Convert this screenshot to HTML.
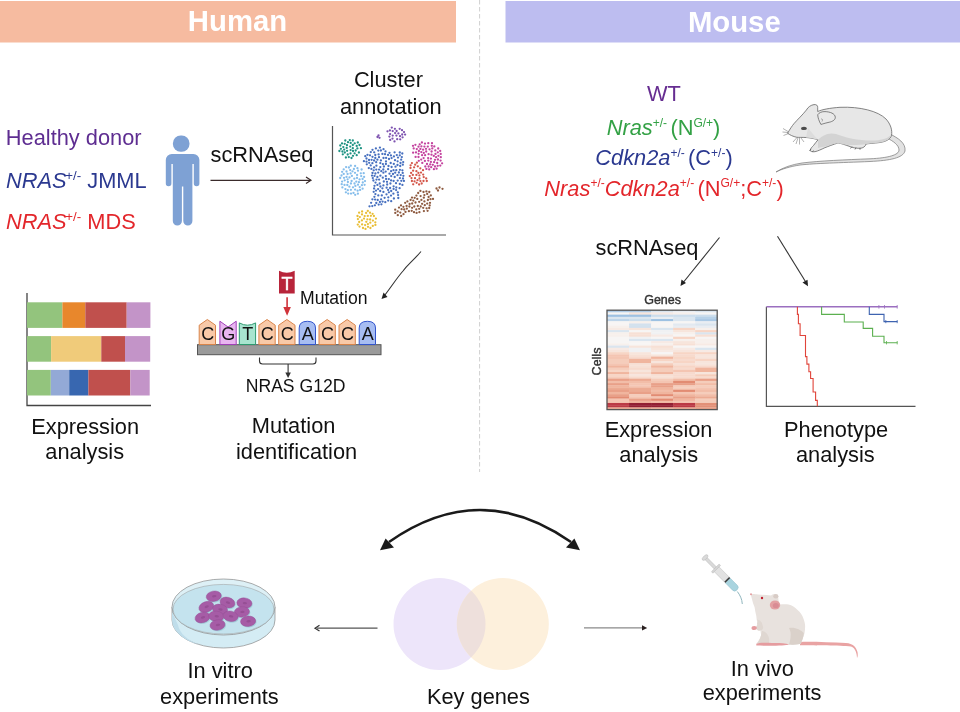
<!DOCTYPE html>
<html><head><meta charset="utf-8"><style>
html,body{margin:0;padding:0;background:#fff;}
svg{display:block;font-family:"Liberation Sans", sans-serif;will-change:transform;}
</style></head><body>
<svg width="960" height="712" viewBox="0 0 960 712">
<rect x="0" y="1" width="456" height="41.5" fill="#F6BBA0"/>
<rect x="505.5" y="1" width="454.5" height="41.5" fill="#BDBDF0"/>
<text x="237.5" y="31.3" text-anchor="middle" font-weight="bold" font-size="29.3" fill="#fff">Human</text>
<text x="734.3" y="32" text-anchor="middle" font-weight="bold" font-size="29.3" fill="#fff">Mouse</text>
<line x1="479.6" y1="0" x2="479.6" y2="472" stroke="#d0d0d0" stroke-width="1" stroke-dasharray="4.5,2.5"/>
<text x="5.8" y="144.6" font-size="21.8" fill="#5E2D91">Healthy donor</text>
<text x="6" y="188" font-size="21.8" fill="#2B3990"><tspan font-style="italic">NRAS</tspan><tspan font-size="13.3" dy="-8" dx="-1.2">+/-</tspan><tspan dy="8"> JMML</tspan></text>
<text x="6" y="228.7" font-size="21.8" fill="#E3262B"><tspan font-style="italic">NRAS</tspan><tspan font-size="13.3" dy="-8" dx="-1.2">+/-</tspan><tspan dy="8"> MDS</tspan></text>
<rect x="172.9" y="135.5" width="16.6" height="16.3" rx="7.8" ry="7.8" fill="#7EA1D4"/>
<path d="M170.9,153.9 H193.4 a6,6 0 0 1 6,6 V183.5 a2.8,2.8 0 0 1 -5.6,0 V164 h-1.4 V221 a4.55,4.55 0 0 1 -9.1,0 V186.5 h-1.4 V221 a4.55,4.55 0 0 1 -9.1,0 V164 h-1.4 V183.5 a2.8,2.8 0 0 1 -5.6,0 V159.9 a6,6 0 0 1 6,-6 Z" fill="#7EA1D4"/>
<text x="210.5" y="162.3" font-size="21.8" fill="#111">scRNAseq</text>
<line x1="210.5" y1="180.3" x2="310.5" y2="180.3" stroke="#3a2b2b" stroke-width="1.2"/>
<path d="M306,177 L311,180.3 L306,183.6" fill="none" stroke="#3a2b2b" stroke-width="1.2"/>
<text x="388.4" y="87.4" text-anchor="middle" font-size="21.8" fill="#111">Cluster</text>
<text x="390.8" y="114" text-anchor="middle" font-size="21.8" fill="#111">annotation</text>
<path d="M332.5,126 V235 H446" fill="none" stroke="#555" stroke-width="1.2"/>
<circle cx="344.2" cy="149.6" r="1.15" fill="#1F9383"/>
<circle cx="347.1" cy="150.8" r="1.15" fill="#1F9383"/>
<circle cx="352.8" cy="140.5" r="1.15" fill="#1F9383"/>
<circle cx="344.7" cy="143.8" r="1.15" fill="#1F9383"/>
<circle cx="360.9" cy="148.2" r="1.15" fill="#1F9383"/>
<circle cx="357.4" cy="148.4" r="1.15" fill="#1F9383"/>
<circle cx="353.0" cy="155.8" r="1.15" fill="#1F9383"/>
<circle cx="350.5" cy="153.4" r="1.15" fill="#1F9383"/>
<circle cx="355.7" cy="150.5" r="1.15" fill="#1F9383"/>
<circle cx="347.7" cy="154.5" r="1.15" fill="#1F9383"/>
<circle cx="348.8" cy="157.1" r="1.15" fill="#1F9383"/>
<circle cx="342.0" cy="143.4" r="1.15" fill="#1F9383"/>
<circle cx="352.8" cy="145.0" r="1.15" fill="#1F9383"/>
<circle cx="350.2" cy="146.6" r="1.15" fill="#1F9383"/>
<circle cx="354.7" cy="143.3" r="1.15" fill="#1F9383"/>
<circle cx="345.3" cy="140.5" r="1.15" fill="#1F9383"/>
<circle cx="348.0" cy="142.2" r="1.15" fill="#1F9383"/>
<circle cx="343.3" cy="147.1" r="1.15" fill="#1F9383"/>
<circle cx="345.9" cy="157.5" r="1.15" fill="#1F9383"/>
<circle cx="339.4" cy="151.0" r="1.15" fill="#1F9383"/>
<circle cx="352.8" cy="148.2" r="1.15" fill="#1F9383"/>
<circle cx="354.6" cy="153.3" r="1.15" fill="#1F9383"/>
<circle cx="347.0" cy="145.2" r="1.15" fill="#1F9383"/>
<circle cx="357.8" cy="142.5" r="1.15" fill="#1F9383"/>
<circle cx="350.7" cy="142.9" r="1.15" fill="#1F9383"/>
<circle cx="356.7" cy="155.2" r="1.15" fill="#1F9383"/>
<circle cx="356.7" cy="145.9" r="1.15" fill="#1F9383"/>
<circle cx="358.9" cy="152.5" r="1.15" fill="#1F9383"/>
<circle cx="342.8" cy="154.3" r="1.15" fill="#1F9383"/>
<circle cx="340.9" cy="148.8" r="1.15" fill="#1F9383"/>
<circle cx="340.3" cy="145.5" r="1.15" fill="#1F9383"/>
<circle cx="350.6" cy="150.1" r="1.15" fill="#1F9383"/>
<circle cx="359.5" cy="145.0" r="1.15" fill="#1F9383"/>
<circle cx="342.4" cy="151.5" r="1.15" fill="#1F9383"/>
<circle cx="346.7" cy="147.9" r="1.15" fill="#1F9383"/>
<circle cx="344.8" cy="152.5" r="1.15" fill="#1F9383"/>
<circle cx="349.8" cy="140.1" r="1.15" fill="#1F9383"/>
<circle cx="353.0" cy="151.0" r="1.15" fill="#1F9383"/>
<circle cx="351.5" cy="158.0" r="1.15" fill="#1F9383"/>
<circle cx="397.2" cy="139.2" r="1.15" fill="#7E53B0"/>
<circle cx="392.7" cy="131.1" r="1.15" fill="#7E53B0"/>
<circle cx="402.0" cy="130.2" r="1.15" fill="#7E53B0"/>
<circle cx="405.1" cy="134.6" r="1.15" fill="#7E53B0"/>
<circle cx="400.0" cy="136.2" r="1.15" fill="#7E53B0"/>
<circle cx="398.4" cy="133.4" r="1.15" fill="#7E53B0"/>
<circle cx="394.9" cy="128.8" r="1.15" fill="#7E53B0"/>
<circle cx="402.2" cy="134.5" r="1.15" fill="#7E53B0"/>
<circle cx="399.7" cy="128.8" r="1.15" fill="#7E53B0"/>
<circle cx="390.1" cy="134.1" r="1.15" fill="#7E53B0"/>
<circle cx="392.5" cy="138.6" r="1.15" fill="#7E53B0"/>
<circle cx="391.8" cy="127.6" r="1.15" fill="#7E53B0"/>
<circle cx="404.0" cy="132.1" r="1.15" fill="#7E53B0"/>
<circle cx="396.6" cy="131.0" r="1.15" fill="#7E53B0"/>
<circle cx="392.7" cy="135.6" r="1.15" fill="#7E53B0"/>
<circle cx="389.4" cy="136.6" r="1.15" fill="#7E53B0"/>
<circle cx="395.1" cy="133.1" r="1.15" fill="#7E53B0"/>
<circle cx="389.9" cy="130.4" r="1.15" fill="#7E53B0"/>
<circle cx="387.5" cy="131.3" r="1.15" fill="#7E53B0"/>
<circle cx="400.2" cy="139.3" r="1.15" fill="#7E53B0"/>
<circle cx="394.5" cy="141.4" r="1.15" fill="#7E53B0"/>
<circle cx="396.4" cy="135.6" r="1.15" fill="#7E53B0"/>
<circle cx="390.2" cy="139.9" r="1.15" fill="#7E53B0"/>
<circle cx="402.6" cy="137.3" r="1.15" fill="#7E53B0"/>
<circle cx="428.1" cy="158.1" r="1.15" fill="#C4449F"/>
<circle cx="431.6" cy="151.5" r="1.15" fill="#C4449F"/>
<circle cx="413.7" cy="148.4" r="1.15" fill="#C4449F"/>
<circle cx="435.0" cy="159.8" r="1.15" fill="#C4449F"/>
<circle cx="425.3" cy="166.5" r="1.15" fill="#C4449F"/>
<circle cx="438.4" cy="155.8" r="1.15" fill="#C4449F"/>
<circle cx="422.1" cy="155.2" r="1.15" fill="#C4449F"/>
<circle cx="426.2" cy="151.5" r="1.15" fill="#C4449F"/>
<circle cx="427.8" cy="146.6" r="1.15" fill="#C4449F"/>
<circle cx="416.0" cy="152.4" r="1.15" fill="#C4449F"/>
<circle cx="424.9" cy="160.9" r="1.15" fill="#C4449F"/>
<circle cx="418.6" cy="153.8" r="1.15" fill="#C4449F"/>
<circle cx="440.3" cy="165.6" r="1.15" fill="#C4449F"/>
<circle cx="429.2" cy="169.4" r="1.15" fill="#C4449F"/>
<circle cx="424.4" cy="146.6" r="1.15" fill="#C4449F"/>
<circle cx="430.9" cy="161.9" r="1.15" fill="#C4449F"/>
<circle cx="423.1" cy="149.7" r="1.15" fill="#C4449F"/>
<circle cx="428.6" cy="154.2" r="1.15" fill="#C4449F"/>
<circle cx="432.0" cy="143.2" r="1.15" fill="#C4449F"/>
<circle cx="428.6" cy="166.5" r="1.15" fill="#C4449F"/>
<circle cx="435.3" cy="150.4" r="1.15" fill="#C4449F"/>
<circle cx="418.5" cy="146.7" r="1.15" fill="#C4449F"/>
<circle cx="421.9" cy="142.5" r="1.15" fill="#C4449F"/>
<circle cx="418.9" cy="151.0" r="1.15" fill="#C4449F"/>
<circle cx="419.7" cy="144.3" r="1.15" fill="#C4449F"/>
<circle cx="435.0" cy="166.5" r="1.15" fill="#C4449F"/>
<circle cx="433.8" cy="155.9" r="1.15" fill="#C4449F"/>
<circle cx="428.3" cy="143.2" r="1.15" fill="#C4449F"/>
<circle cx="415.4" cy="144.8" r="1.15" fill="#C4449F"/>
<circle cx="421.2" cy="159.6" r="1.15" fill="#C4449F"/>
<circle cx="440.6" cy="160.6" r="1.15" fill="#C4449F"/>
<circle cx="425.1" cy="155.2" r="1.15" fill="#C4449F"/>
<circle cx="427.0" cy="164.0" r="1.15" fill="#C4449F"/>
<circle cx="437.2" cy="163.0" r="1.15" fill="#C4449F"/>
<circle cx="418.8" cy="160.8" r="1.15" fill="#C4449F"/>
<circle cx="432.3" cy="148.4" r="1.15" fill="#C4449F"/>
<circle cx="422.3" cy="162.9" r="1.15" fill="#C4449F"/>
<circle cx="430.9" cy="158.6" r="1.15" fill="#C4449F"/>
<circle cx="432.8" cy="164.8" r="1.15" fill="#C4449F"/>
<circle cx="431.8" cy="145.8" r="1.15" fill="#C4449F"/>
<circle cx="438.2" cy="148.5" r="1.15" fill="#C4449F"/>
<circle cx="437.8" cy="152.3" r="1.15" fill="#C4449F"/>
<circle cx="420.4" cy="148.9" r="1.15" fill="#C4449F"/>
<circle cx="436.6" cy="168.7" r="1.15" fill="#C4449F"/>
<circle cx="435.5" cy="153.9" r="1.15" fill="#C4449F"/>
<circle cx="426.0" cy="148.8" r="1.15" fill="#C4449F"/>
<circle cx="418.5" cy="157.0" r="1.15" fill="#C4449F"/>
<circle cx="421.3" cy="152.1" r="1.15" fill="#C4449F"/>
<circle cx="440.8" cy="157.2" r="1.15" fill="#C4449F"/>
<circle cx="437.9" cy="159.5" r="1.15" fill="#C4449F"/>
<circle cx="423.6" cy="158.1" r="1.15" fill="#C4449F"/>
<circle cx="434.3" cy="146.4" r="1.15" fill="#C4449F"/>
<circle cx="421.4" cy="146.3" r="1.15" fill="#C4449F"/>
<circle cx="415.6" cy="156.9" r="1.15" fill="#C4449F"/>
<circle cx="440.7" cy="153.9" r="1.15" fill="#C4449F"/>
<circle cx="425.0" cy="143.6" r="1.15" fill="#C4449F"/>
<circle cx="431.2" cy="167.2" r="1.15" fill="#C4449F"/>
<circle cx="440.2" cy="150.9" r="1.15" fill="#C4449F"/>
<circle cx="429.5" cy="149.3" r="1.15" fill="#C4449F"/>
<circle cx="431.5" cy="154.7" r="1.15" fill="#C4449F"/>
<circle cx="428.3" cy="160.6" r="1.15" fill="#C4449F"/>
<circle cx="413.1" cy="152.7" r="1.15" fill="#C4449F"/>
<circle cx="434.1" cy="162.2" r="1.15" fill="#C4449F"/>
<circle cx="416.8" cy="149.1" r="1.15" fill="#C4449F"/>
<circle cx="433.9" cy="169.2" r="1.15" fill="#C4449F"/>
<circle cx="423.8" cy="152.9" r="1.15" fill="#C4449F"/>
<circle cx="430.2" cy="164.4" r="1.15" fill="#C4449F"/>
<circle cx="426.4" cy="168.9" r="1.15" fill="#C4449F"/>
<circle cx="437.7" cy="165.8" r="1.15" fill="#C4449F"/>
<circle cx="413.0" cy="145.8" r="1.15" fill="#C4449F"/>
<circle cx="442.1" cy="163.3" r="1.15" fill="#C4449F"/>
<circle cx="436.1" cy="157.2" r="1.15" fill="#C4449F"/>
<circle cx="347.8" cy="190.2" r="1.15" fill="#85BDEB"/>
<circle cx="342.4" cy="187.4" r="1.15" fill="#85BDEB"/>
<circle cx="357.0" cy="177.9" r="1.15" fill="#85BDEB"/>
<circle cx="365.0" cy="181.1" r="1.15" fill="#85BDEB"/>
<circle cx="358.0" cy="170.7" r="1.15" fill="#85BDEB"/>
<circle cx="355.0" cy="172.8" r="1.15" fill="#85BDEB"/>
<circle cx="346.5" cy="176.9" r="1.15" fill="#85BDEB"/>
<circle cx="349.4" cy="186.7" r="1.15" fill="#85BDEB"/>
<circle cx="353.0" cy="187.3" r="1.15" fill="#85BDEB"/>
<circle cx="360.8" cy="173.3" r="1.15" fill="#85BDEB"/>
<circle cx="362.6" cy="179.0" r="1.15" fill="#85BDEB"/>
<circle cx="361.9" cy="185.2" r="1.15" fill="#85BDEB"/>
<circle cx="341.7" cy="184.2" r="1.15" fill="#85BDEB"/>
<circle cx="351.9" cy="175.9" r="1.15" fill="#85BDEB"/>
<circle cx="347.9" cy="182.0" r="1.15" fill="#85BDEB"/>
<circle cx="353.5" cy="192.9" r="1.15" fill="#85BDEB"/>
<circle cx="354.5" cy="183.5" r="1.15" fill="#85BDEB"/>
<circle cx="358.0" cy="184.7" r="1.15" fill="#85BDEB"/>
<circle cx="351.6" cy="181.0" r="1.15" fill="#85BDEB"/>
<circle cx="355.1" cy="166.0" r="1.15" fill="#85BDEB"/>
<circle cx="340.2" cy="178.0" r="1.15" fill="#85BDEB"/>
<circle cx="355.4" cy="185.9" r="1.15" fill="#85BDEB"/>
<circle cx="341.5" cy="175.5" r="1.15" fill="#85BDEB"/>
<circle cx="350.9" cy="189.8" r="1.15" fill="#85BDEB"/>
<circle cx="350.6" cy="173.4" r="1.15" fill="#85BDEB"/>
<circle cx="360.1" cy="189.9" r="1.15" fill="#85BDEB"/>
<circle cx="344.5" cy="184.9" r="1.15" fill="#85BDEB"/>
<circle cx="351.0" cy="193.6" r="1.15" fill="#85BDEB"/>
<circle cx="358.9" cy="182.2" r="1.15" fill="#85BDEB"/>
<circle cx="354.3" cy="178.7" r="1.15" fill="#85BDEB"/>
<circle cx="346.5" cy="171.5" r="1.15" fill="#85BDEB"/>
<circle cx="362.8" cy="182.5" r="1.15" fill="#85BDEB"/>
<circle cx="357.1" cy="175.0" r="1.15" fill="#85BDEB"/>
<circle cx="361.6" cy="169.5" r="1.15" fill="#85BDEB"/>
<circle cx="347.6" cy="174.0" r="1.15" fill="#85BDEB"/>
<circle cx="348.9" cy="167.5" r="1.15" fill="#85BDEB"/>
<circle cx="343.7" cy="173.9" r="1.15" fill="#85BDEB"/>
<circle cx="346.1" cy="167.1" r="1.15" fill="#85BDEB"/>
<circle cx="357.4" cy="168.2" r="1.15" fill="#85BDEB"/>
<circle cx="355.1" cy="189.6" r="1.15" fill="#85BDEB"/>
<circle cx="359.7" cy="187.1" r="1.15" fill="#85BDEB"/>
<circle cx="342.1" cy="181.6" r="1.15" fill="#85BDEB"/>
<circle cx="353.9" cy="169.0" r="1.15" fill="#85BDEB"/>
<circle cx="343.7" cy="169.4" r="1.15" fill="#85BDEB"/>
<circle cx="349.5" cy="177.4" r="1.15" fill="#85BDEB"/>
<circle cx="345.4" cy="189.1" r="1.15" fill="#85BDEB"/>
<circle cx="344.0" cy="177.8" r="1.15" fill="#85BDEB"/>
<circle cx="350.9" cy="183.5" r="1.15" fill="#85BDEB"/>
<circle cx="361.2" cy="176.1" r="1.15" fill="#85BDEB"/>
<circle cx="350.8" cy="165.7" r="1.15" fill="#85BDEB"/>
<circle cx="357.9" cy="193.7" r="1.15" fill="#85BDEB"/>
<circle cx="345.9" cy="192.3" r="1.15" fill="#85BDEB"/>
<circle cx="350.2" cy="170.1" r="1.15" fill="#85BDEB"/>
<circle cx="364.1" cy="176.9" r="1.15" fill="#85BDEB"/>
<circle cx="364.6" cy="184.8" r="1.15" fill="#85BDEB"/>
<circle cx="362.6" cy="188.7" r="1.15" fill="#85BDEB"/>
<circle cx="359.6" cy="179.4" r="1.15" fill="#85BDEB"/>
<circle cx="363.7" cy="173.2" r="1.15" fill="#85BDEB"/>
<circle cx="348.2" cy="193.6" r="1.15" fill="#85BDEB"/>
<circle cx="344.7" cy="180.3" r="1.15" fill="#85BDEB"/>
<circle cx="356.3" cy="181.6" r="1.15" fill="#85BDEB"/>
<circle cx="347.3" cy="185.0" r="1.15" fill="#85BDEB"/>
<circle cx="352.5" cy="171.3" r="1.15" fill="#85BDEB"/>
<circle cx="355.2" cy="194.8" r="1.15" fill="#85BDEB"/>
<circle cx="347.6" cy="179.3" r="1.15" fill="#85BDEB"/>
<circle cx="342.1" cy="171.8" r="1.15" fill="#85BDEB"/>
<circle cx="357.6" cy="190.7" r="1.15" fill="#85BDEB"/>
<circle cx="377.4" cy="184.9" r="1.15" fill="#4770BF"/>
<circle cx="383.4" cy="191.9" r="1.15" fill="#4770BF"/>
<circle cx="396.8" cy="155.1" r="1.15" fill="#4770BF"/>
<circle cx="378.3" cy="150.6" r="1.15" fill="#4770BF"/>
<circle cx="393.4" cy="193.7" r="1.15" fill="#4770BF"/>
<circle cx="390.7" cy="163.0" r="1.15" fill="#4770BF"/>
<circle cx="373.7" cy="170.3" r="1.15" fill="#4770BF"/>
<circle cx="393.6" cy="186.3" r="1.15" fill="#4770BF"/>
<circle cx="382.4" cy="188.3" r="1.15" fill="#4770BF"/>
<circle cx="381.8" cy="195.4" r="1.15" fill="#4770BF"/>
<circle cx="393.6" cy="188.9" r="1.15" fill="#4770BF"/>
<circle cx="386.5" cy="194.3" r="1.15" fill="#4770BF"/>
<circle cx="391.6" cy="167.0" r="1.15" fill="#4770BF"/>
<circle cx="374.5" cy="175.9" r="1.15" fill="#4770BF"/>
<circle cx="376.2" cy="162.2" r="1.15" fill="#4770BF"/>
<circle cx="401.3" cy="180.8" r="1.15" fill="#4770BF"/>
<circle cx="379.0" cy="157.2" r="1.15" fill="#4770BF"/>
<circle cx="375.1" cy="199.6" r="1.15" fill="#4770BF"/>
<circle cx="396.3" cy="170.2" r="1.15" fill="#4770BF"/>
<circle cx="381.1" cy="199.3" r="1.15" fill="#4770BF"/>
<circle cx="378.3" cy="195.4" r="1.15" fill="#4770BF"/>
<circle cx="388.3" cy="197.3" r="1.15" fill="#4770BF"/>
<circle cx="380.3" cy="167.1" r="1.15" fill="#4770BF"/>
<circle cx="399.6" cy="188.2" r="1.15" fill="#4770BF"/>
<circle cx="383.3" cy="169.5" r="1.15" fill="#4770BF"/>
<circle cx="400.7" cy="175.1" r="1.15" fill="#4770BF"/>
<circle cx="401.8" cy="157.1" r="1.15" fill="#4770BF"/>
<circle cx="380.4" cy="175.7" r="1.15" fill="#4770BF"/>
<circle cx="396.1" cy="190.1" r="1.15" fill="#4770BF"/>
<circle cx="369.0" cy="160.0" r="1.15" fill="#4770BF"/>
<circle cx="394.7" cy="177.0" r="1.15" fill="#4770BF"/>
<circle cx="398.9" cy="172.5" r="1.15" fill="#4770BF"/>
<circle cx="370.0" cy="155.3" r="1.15" fill="#4770BF"/>
<circle cx="393.9" cy="198.5" r="1.15" fill="#4770BF"/>
<circle cx="376.3" cy="203.0" r="1.15" fill="#4770BF"/>
<circle cx="391.0" cy="195.6" r="1.15" fill="#4770BF"/>
<circle cx="382.4" cy="153.9" r="1.15" fill="#4770BF"/>
<circle cx="389.0" cy="159.0" r="1.15" fill="#4770BF"/>
<circle cx="383.9" cy="166.5" r="1.15" fill="#4770BF"/>
<circle cx="386.0" cy="161.4" r="1.15" fill="#4770BF"/>
<circle cx="383.5" cy="158.0" r="1.15" fill="#4770BF"/>
<circle cx="370.8" cy="152.1" r="1.15" fill="#4770BF"/>
<circle cx="391.2" cy="176.1" r="1.15" fill="#4770BF"/>
<circle cx="390.9" cy="155.4" r="1.15" fill="#4770BF"/>
<circle cx="388.1" cy="169.2" r="1.15" fill="#4770BF"/>
<circle cx="376.0" cy="190.6" r="1.15" fill="#4770BF"/>
<circle cx="380.9" cy="150.5" r="1.15" fill="#4770BF"/>
<circle cx="375.3" cy="155.0" r="1.15" fill="#4770BF"/>
<circle cx="397.6" cy="161.3" r="1.15" fill="#4770BF"/>
<circle cx="385.3" cy="202.2" r="1.15" fill="#4770BF"/>
<circle cx="390.1" cy="188.0" r="1.15" fill="#4770BF"/>
<circle cx="372.5" cy="173.0" r="1.15" fill="#4770BF"/>
<circle cx="378.2" cy="172.6" r="1.15" fill="#4770BF"/>
<circle cx="387.2" cy="184.5" r="1.15" fill="#4770BF"/>
<circle cx="388.8" cy="179.1" r="1.15" fill="#4770BF"/>
<circle cx="380.3" cy="163.1" r="1.15" fill="#4770BF"/>
<circle cx="376.4" cy="165.7" r="1.15" fill="#4770BF"/>
<circle cx="386.1" cy="157.9" r="1.15" fill="#4770BF"/>
<circle cx="388.0" cy="154.9" r="1.15" fill="#4770BF"/>
<circle cx="375.5" cy="182.6" r="1.15" fill="#4770BF"/>
<circle cx="389.5" cy="173.7" r="1.15" fill="#4770BF"/>
<circle cx="403.0" cy="178.5" r="1.15" fill="#4770BF"/>
<circle cx="375.3" cy="158.0" r="1.15" fill="#4770BF"/>
<circle cx="367.5" cy="154.8" r="1.15" fill="#4770BF"/>
<circle cx="374.5" cy="185.8" r="1.15" fill="#4770BF"/>
<circle cx="395.2" cy="172.7" r="1.15" fill="#4770BF"/>
<circle cx="402.3" cy="153.5" r="1.15" fill="#4770BF"/>
<circle cx="393.9" cy="156.4" r="1.15" fill="#4770BF"/>
<circle cx="369.2" cy="162.8" r="1.15" fill="#4770BF"/>
<circle cx="383.4" cy="172.7" r="1.15" fill="#4770BF"/>
<circle cx="388.5" cy="166.0" r="1.15" fill="#4770BF"/>
<circle cx="366.5" cy="158.5" r="1.15" fill="#4770BF"/>
<circle cx="379.9" cy="147.6" r="1.15" fill="#4770BF"/>
<circle cx="403.2" cy="162.1" r="1.15" fill="#4770BF"/>
<circle cx="382.9" cy="164.1" r="1.15" fill="#4770BF"/>
<circle cx="390.4" cy="183.5" r="1.15" fill="#4770BF"/>
<circle cx="365.3" cy="156.2" r="1.15" fill="#4770BF"/>
<circle cx="402.4" cy="184.9" r="1.15" fill="#4770BF"/>
<circle cx="400.2" cy="166.0" r="1.15" fill="#4770BF"/>
<circle cx="402.4" cy="170.3" r="1.15" fill="#4770BF"/>
<circle cx="371.1" cy="202.8" r="1.15" fill="#4770BF"/>
<circle cx="380.2" cy="191.0" r="1.15" fill="#4770BF"/>
<circle cx="388.2" cy="200.6" r="1.15" fill="#4770BF"/>
<circle cx="378.7" cy="204.6" r="1.15" fill="#4770BF"/>
<circle cx="372.4" cy="163.2" r="1.15" fill="#4770BF"/>
<circle cx="381.3" cy="171.2" r="1.15" fill="#4770BF"/>
<circle cx="396.0" cy="183.2" r="1.15" fill="#4770BF"/>
<circle cx="366.5" cy="161.7" r="1.15" fill="#4770BF"/>
<circle cx="372.3" cy="206.1" r="1.15" fill="#4770BF"/>
<circle cx="382.8" cy="177.7" r="1.15" fill="#4770BF"/>
<circle cx="385.9" cy="164.0" r="1.15" fill="#4770BF"/>
<circle cx="374.1" cy="167.4" r="1.15" fill="#4770BF"/>
<circle cx="384.6" cy="197.8" r="1.15" fill="#4770BF"/>
<circle cx="397.5" cy="175.2" r="1.15" fill="#4770BF"/>
<circle cx="383.8" cy="181.5" r="1.15" fill="#4770BF"/>
<circle cx="374.4" cy="196.8" r="1.15" fill="#4770BF"/>
<circle cx="375.4" cy="194.1" r="1.15" fill="#4770BF"/>
<circle cx="379.1" cy="179.6" r="1.15" fill="#4770BF"/>
<circle cx="382.6" cy="201.6" r="1.15" fill="#4770BF"/>
<circle cx="398.1" cy="195.1" r="1.15" fill="#4770BF"/>
<circle cx="398.3" cy="198.0" r="1.15" fill="#4770BF"/>
<circle cx="393.5" cy="170.2" r="1.15" fill="#4770BF"/>
<circle cx="378.6" cy="154.4" r="1.15" fill="#4770BF"/>
<circle cx="395.0" cy="160.2" r="1.15" fill="#4770BF"/>
<circle cx="388.9" cy="192.3" r="1.15" fill="#4770BF"/>
<circle cx="368.8" cy="168.1" r="1.15" fill="#4770BF"/>
<circle cx="374.2" cy="152.3" r="1.15" fill="#4770BF"/>
<circle cx="395.5" cy="166.7" r="1.15" fill="#4770BF"/>
<circle cx="379.7" cy="183.5" r="1.15" fill="#4770BF"/>
<circle cx="376.5" cy="179.6" r="1.15" fill="#4770BF"/>
<circle cx="372.5" cy="156.8" r="1.15" fill="#4770BF"/>
<circle cx="386.6" cy="187.7" r="1.15" fill="#4770BF"/>
<circle cx="380.9" cy="160.4" r="1.15" fill="#4770BF"/>
<circle cx="378.1" cy="189.1" r="1.15" fill="#4770BF"/>
<circle cx="394.6" cy="152.3" r="1.15" fill="#4770BF"/>
<circle cx="391.1" cy="171.2" r="1.15" fill="#4770BF"/>
<circle cx="391.6" cy="158.1" r="1.15" fill="#4770BF"/>
<circle cx="391.1" cy="180.4" r="1.15" fill="#4770BF"/>
<circle cx="396.3" cy="187.5" r="1.15" fill="#4770BF"/>
<circle cx="399.9" cy="169.8" r="1.15" fill="#4770BF"/>
<circle cx="397.7" cy="180.6" r="1.15" fill="#4770BF"/>
<circle cx="381.4" cy="204.3" r="1.15" fill="#4770BF"/>
<circle cx="375.9" cy="148.4" r="1.15" fill="#4770BF"/>
<circle cx="377.7" cy="200.0" r="1.15" fill="#4770BF"/>
<circle cx="393.6" cy="181.0" r="1.15" fill="#4770BF"/>
<circle cx="363.9" cy="161.2" r="1.15" fill="#4770BF"/>
<circle cx="393.8" cy="163.9" r="1.15" fill="#4770BF"/>
<circle cx="379.1" cy="169.6" r="1.15" fill="#4770BF"/>
<circle cx="389.5" cy="152.8" r="1.15" fill="#4770BF"/>
<circle cx="385.8" cy="176.1" r="1.15" fill="#4770BF"/>
<circle cx="383.4" cy="185.4" r="1.15" fill="#4770BF"/>
<circle cx="399.8" cy="184.0" r="1.15" fill="#4770BF"/>
<circle cx="399.9" cy="178.1" r="1.15" fill="#4770BF"/>
<circle cx="391.2" cy="201.2" r="1.15" fill="#4770BF"/>
<circle cx="366.8" cy="164.3" r="1.15" fill="#4770BF"/>
<circle cx="372.8" cy="178.1" r="1.15" fill="#4770BF"/>
<circle cx="385.0" cy="154.2" r="1.15" fill="#4770BF"/>
<circle cx="388.1" cy="189.9" r="1.15" fill="#4770BF"/>
<circle cx="385.5" cy="151.4" r="1.15" fill="#4770BF"/>
<circle cx="387.0" cy="181.8" r="1.15" fill="#4770BF"/>
<circle cx="402.8" cy="164.7" r="1.15" fill="#4770BF"/>
<circle cx="403.4" cy="175.8" r="1.15" fill="#4770BF"/>
<circle cx="399.8" cy="155.3" r="1.15" fill="#4770BF"/>
<circle cx="377.4" cy="159.7" r="1.15" fill="#4770BF"/>
<circle cx="371.4" cy="168.9" r="1.15" fill="#4770BF"/>
<circle cx="397.8" cy="192.4" r="1.15" fill="#4770BF"/>
<circle cx="400.5" cy="163.0" r="1.15" fill="#4770BF"/>
<circle cx="373.4" cy="180.5" r="1.15" fill="#4770BF"/>
<circle cx="397.5" cy="165.0" r="1.15" fill="#4770BF"/>
<circle cx="401.2" cy="159.7" r="1.15" fill="#4770BF"/>
<circle cx="372.4" cy="199.3" r="1.15" fill="#4770BF"/>
<circle cx="383.5" cy="149.2" r="1.15" fill="#4770BF"/>
<circle cx="386.1" cy="179.0" r="1.15" fill="#4770BF"/>
<circle cx="372.5" cy="149.8" r="1.15" fill="#4770BF"/>
<circle cx="398.0" cy="157.6" r="1.15" fill="#4770BF"/>
<circle cx="391.2" cy="191.0" r="1.15" fill="#4770BF"/>
<circle cx="385.7" cy="171.6" r="1.15" fill="#4770BF"/>
<circle cx="376.3" cy="169.6" r="1.15" fill="#4770BF"/>
<circle cx="379.9" cy="202.0" r="1.15" fill="#4770BF"/>
<circle cx="374.1" cy="160.5" r="1.15" fill="#4770BF"/>
<circle cx="375.4" cy="173.5" r="1.15" fill="#4770BF"/>
<circle cx="380.4" cy="186.5" r="1.15" fill="#4770BF"/>
<circle cx="393.0" cy="174.0" r="1.15" fill="#4770BF"/>
<circle cx="399.8" cy="152.5" r="1.15" fill="#4770BF"/>
<circle cx="374.1" cy="188.5" r="1.15" fill="#4770BF"/>
<circle cx="370.7" cy="165.4" r="1.15" fill="#4770BF"/>
<circle cx="377.4" cy="177.0" r="1.15" fill="#4770BF"/>
<circle cx="371.6" cy="159.8" r="1.15" fill="#4770BF"/>
<circle cx="372.0" cy="175.6" r="1.15" fill="#4770BF"/>
<circle cx="369.5" cy="206.3" r="1.15" fill="#4770BF"/>
<circle cx="373.7" cy="191.8" r="1.15" fill="#4770BF"/>
<circle cx="374.9" cy="205.3" r="1.15" fill="#4770BF"/>
<circle cx="402.7" cy="172.9" r="1.15" fill="#4770BF"/>
<circle cx="403.9" cy="180.9" r="1.15" fill="#4770BF"/>
<circle cx="415.0" cy="178.2" r="1.15" fill="#D4574A"/>
<circle cx="423.2" cy="174.6" r="1.15" fill="#D4574A"/>
<circle cx="414.1" cy="167.3" r="1.15" fill="#D4574A"/>
<circle cx="417.8" cy="166.3" r="1.15" fill="#D4574A"/>
<circle cx="423.7" cy="177.1" r="1.15" fill="#D4574A"/>
<circle cx="411.1" cy="172.9" r="1.15" fill="#D4574A"/>
<circle cx="411.9" cy="163.1" r="1.15" fill="#D4574A"/>
<circle cx="413.1" cy="170.7" r="1.15" fill="#D4574A"/>
<circle cx="416.4" cy="171.2" r="1.15" fill="#D4574A"/>
<circle cx="421.0" cy="172.6" r="1.15" fill="#D4574A"/>
<circle cx="412.8" cy="174.9" r="1.15" fill="#D4574A"/>
<circle cx="420.4" cy="181.1" r="1.15" fill="#D4574A"/>
<circle cx="416.9" cy="162.7" r="1.15" fill="#D4574A"/>
<circle cx="423.0" cy="170.2" r="1.15" fill="#D4574A"/>
<circle cx="426.8" cy="181.0" r="1.15" fill="#D4574A"/>
<circle cx="419.5" cy="178.5" r="1.15" fill="#D4574A"/>
<circle cx="420.3" cy="168.3" r="1.15" fill="#D4574A"/>
<circle cx="416.6" cy="182.8" r="1.15" fill="#D4574A"/>
<circle cx="418.4" cy="172.9" r="1.15" fill="#D4574A"/>
<circle cx="423.5" cy="181.0" r="1.15" fill="#D4574A"/>
<circle cx="411.9" cy="181.0" r="1.15" fill="#D4574A"/>
<circle cx="410.5" cy="167.9" r="1.15" fill="#D4574A"/>
<circle cx="411.5" cy="178.1" r="1.15" fill="#D4574A"/>
<circle cx="419.1" cy="184.5" r="1.15" fill="#D4574A"/>
<circle cx="413.2" cy="184.3" r="1.15" fill="#D4574A"/>
<circle cx="419.4" cy="175.4" r="1.15" fill="#D4574A"/>
<circle cx="416.4" cy="174.9" r="1.15" fill="#D4574A"/>
<circle cx="417.5" cy="180.2" r="1.15" fill="#D4574A"/>
<circle cx="415.2" cy="164.7" r="1.15" fill="#D4574A"/>
<circle cx="409.8" cy="176.1" r="1.15" fill="#D4574A"/>
<circle cx="414.5" cy="181.3" r="1.15" fill="#D4574A"/>
<circle cx="426.2" cy="178.4" r="1.15" fill="#D4574A"/>
<circle cx="421.7" cy="183.5" r="1.15" fill="#D4574A"/>
<circle cx="410.6" cy="165.3" r="1.15" fill="#D4574A"/>
<circle cx="422.1" cy="203.8" r="1.15" fill="#8E5B40"/>
<circle cx="427.9" cy="200.0" r="1.15" fill="#8E5B40"/>
<circle cx="397.7" cy="211.4" r="1.15" fill="#8E5B40"/>
<circle cx="414.3" cy="206.5" r="1.15" fill="#8E5B40"/>
<circle cx="423.8" cy="197.7" r="1.15" fill="#8E5B40"/>
<circle cx="427.2" cy="193.9" r="1.15" fill="#8E5B40"/>
<circle cx="399.0" cy="207.6" r="1.15" fill="#8E5B40"/>
<circle cx="403.4" cy="206.8" r="1.15" fill="#8E5B40"/>
<circle cx="409.4" cy="206.5" r="1.15" fill="#8E5B40"/>
<circle cx="401.2" cy="216.0" r="1.15" fill="#8E5B40"/>
<circle cx="415.5" cy="202.5" r="1.15" fill="#8E5B40"/>
<circle cx="428.6" cy="197.0" r="1.15" fill="#8E5B40"/>
<circle cx="410.6" cy="199.9" r="1.15" fill="#8E5B40"/>
<circle cx="421.4" cy="199.9" r="1.15" fill="#8E5B40"/>
<circle cx="424.4" cy="195.1" r="1.15" fill="#8E5B40"/>
<circle cx="417.8" cy="206.0" r="1.15" fill="#8E5B40"/>
<circle cx="412.2" cy="203.5" r="1.15" fill="#8E5B40"/>
<circle cx="414.7" cy="197.8" r="1.15" fill="#8E5B40"/>
<circle cx="427.2" cy="203.6" r="1.15" fill="#8E5B40"/>
<circle cx="407.4" cy="201.4" r="1.15" fill="#8E5B40"/>
<circle cx="416.6" cy="212.9" r="1.15" fill="#8E5B40"/>
<circle cx="420.6" cy="196.1" r="1.15" fill="#8E5B40"/>
<circle cx="400.3" cy="212.6" r="1.15" fill="#8E5B40"/>
<circle cx="417.3" cy="198.9" r="1.15" fill="#8E5B40"/>
<circle cx="406.6" cy="205.9" r="1.15" fill="#8E5B40"/>
<circle cx="433.0" cy="198.9" r="1.15" fill="#8E5B40"/>
<circle cx="423.5" cy="192.0" r="1.15" fill="#8E5B40"/>
<circle cx="423.9" cy="211.1" r="1.15" fill="#8E5B40"/>
<circle cx="405.5" cy="211.9" r="1.15" fill="#8E5B40"/>
<circle cx="423.2" cy="207.8" r="1.15" fill="#8E5B40"/>
<circle cx="411.7" cy="210.8" r="1.15" fill="#8E5B40"/>
<circle cx="420.4" cy="190.9" r="1.15" fill="#8E5B40"/>
<circle cx="395.2" cy="209.7" r="1.15" fill="#8E5B40"/>
<circle cx="418.2" cy="193.0" r="1.15" fill="#8E5B40"/>
<circle cx="416.3" cy="209.4" r="1.15" fill="#8E5B40"/>
<circle cx="405.2" cy="202.8" r="1.15" fill="#8E5B40"/>
<circle cx="424.4" cy="201.4" r="1.15" fill="#8E5B40"/>
<circle cx="430.0" cy="202.8" r="1.15" fill="#8E5B40"/>
<circle cx="419.2" cy="208.8" r="1.15" fill="#8E5B40"/>
<circle cx="419.2" cy="201.8" r="1.15" fill="#8E5B40"/>
<circle cx="429.3" cy="192.0" r="1.15" fill="#8E5B40"/>
<circle cx="427.6" cy="210.8" r="1.15" fill="#8E5B40"/>
<circle cx="401.6" cy="209.2" r="1.15" fill="#8E5B40"/>
<circle cx="429.2" cy="208.0" r="1.15" fill="#8E5B40"/>
<circle cx="397.8" cy="215.2" r="1.15" fill="#8E5B40"/>
<circle cx="430.8" cy="195.4" r="1.15" fill="#8E5B40"/>
<circle cx="426.4" cy="191.4" r="1.15" fill="#8E5B40"/>
<circle cx="426.6" cy="208.3" r="1.15" fill="#8E5B40"/>
<circle cx="408.9" cy="211.2" r="1.15" fill="#8E5B40"/>
<circle cx="406.8" cy="208.7" r="1.15" fill="#8E5B40"/>
<circle cx="409.6" cy="203.9" r="1.15" fill="#8E5B40"/>
<circle cx="424.8" cy="205.2" r="1.15" fill="#8E5B40"/>
<circle cx="419.4" cy="212.2" r="1.15" fill="#8E5B40"/>
<circle cx="403.5" cy="214.2" r="1.15" fill="#8E5B40"/>
<circle cx="420.7" cy="206.5" r="1.15" fill="#8E5B40"/>
<circle cx="429.7" cy="205.4" r="1.15" fill="#8E5B40"/>
<circle cx="416.4" cy="195.6" r="1.15" fill="#8E5B40"/>
<circle cx="414.0" cy="212.2" r="1.15" fill="#8E5B40"/>
<circle cx="412.0" cy="197.6" r="1.15" fill="#8E5B40"/>
<circle cx="395.3" cy="212.9" r="1.15" fill="#8E5B40"/>
<circle cx="412.1" cy="207.8" r="1.15" fill="#8E5B40"/>
<circle cx="430.5" cy="199.2" r="1.15" fill="#8E5B40"/>
<circle cx="413.3" cy="200.6" r="1.15" fill="#8E5B40"/>
<circle cx="404.2" cy="209.5" r="1.15" fill="#8E5B40"/>
<circle cx="401.0" cy="205.4" r="1.15" fill="#8E5B40"/>
<circle cx="367.4" cy="219.3" r="1.15" fill="#E9BE36"/>
<circle cx="359.8" cy="217.1" r="1.15" fill="#E9BE36"/>
<circle cx="373.9" cy="216.0" r="1.15" fill="#E9BE36"/>
<circle cx="359.2" cy="222.0" r="1.15" fill="#E9BE36"/>
<circle cx="364.0" cy="218.6" r="1.15" fill="#E9BE36"/>
<circle cx="372.9" cy="220.6" r="1.15" fill="#E9BE36"/>
<circle cx="368.0" cy="226.8" r="1.15" fill="#E9BE36"/>
<circle cx="366.3" cy="221.8" r="1.15" fill="#E9BE36"/>
<circle cx="366.1" cy="212.9" r="1.15" fill="#E9BE36"/>
<circle cx="367.8" cy="215.9" r="1.15" fill="#E9BE36"/>
<circle cx="375.9" cy="218.6" r="1.15" fill="#E9BE36"/>
<circle cx="365.5" cy="228.9" r="1.15" fill="#E9BE36"/>
<circle cx="370.9" cy="215.8" r="1.15" fill="#E9BE36"/>
<circle cx="365.1" cy="225.1" r="1.15" fill="#E9BE36"/>
<circle cx="372.8" cy="225.9" r="1.15" fill="#E9BE36"/>
<circle cx="362.1" cy="211.5" r="1.15" fill="#E9BE36"/>
<circle cx="359.1" cy="212.7" r="1.15" fill="#E9BE36"/>
<circle cx="361.9" cy="220.4" r="1.15" fill="#E9BE36"/>
<circle cx="362.1" cy="224.4" r="1.15" fill="#E9BE36"/>
<circle cx="362.0" cy="214.4" r="1.15" fill="#E9BE36"/>
<circle cx="359.5" cy="226.6" r="1.15" fill="#E9BE36"/>
<circle cx="363.0" cy="228.0" r="1.15" fill="#E9BE36"/>
<circle cx="370.3" cy="222.7" r="1.15" fill="#E9BE36"/>
<circle cx="367.9" cy="224.1" r="1.15" fill="#E9BE36"/>
<circle cx="364.7" cy="216.1" r="1.15" fill="#E9BE36"/>
<circle cx="370.4" cy="228.0" r="1.15" fill="#E9BE36"/>
<circle cx="357.5" cy="216.0" r="1.15" fill="#E9BE36"/>
<circle cx="370.0" cy="212.7" r="1.15" fill="#E9BE36"/>
<circle cx="375.3" cy="222.3" r="1.15" fill="#E9BE36"/>
<circle cx="357.8" cy="224.6" r="1.15" fill="#E9BE36"/>
<circle cx="370.1" cy="219.5" r="1.15" fill="#E9BE36"/>
<circle cx="357.9" cy="219.1" r="1.15" fill="#E9BE36"/>
<circle cx="372.6" cy="213.8" r="1.15" fill="#E9BE36"/>
<circle cx="367.8" cy="210.9" r="1.15" fill="#E9BE36"/>
<circle cx="375.4" cy="224.9" r="1.15" fill="#E9BE36"/>
<circle cx="377.5" cy="137" r="1.15" fill="#7E53B0"/>
<circle cx="379.5" cy="137.8" r="1.15" fill="#7E53B0"/>
<circle cx="378.5" cy="135.5" r="1.15" fill="#7E53B0"/>
<circle cx="436.5" cy="188.5" r="1.15" fill="#8E5B40"/>
<circle cx="439.5" cy="187.5" r="1.15" fill="#8E5B40"/>
<circle cx="442.5" cy="188.8" r="1.15" fill="#8E5B40"/>
<circle cx="438" cy="190.5" r="1.15" fill="#8E5B40"/>
<path d="M421,251.5 C412,262 408,264 403,271 C396,279 392,286 383,297.5" fill="none" stroke="#333" stroke-width="1.1"/>
<path d="M381.5,299 L383.5,292.5 L387.5,297 Z" fill="#222"/>
<path d="M27,293 V405.5 H151" fill="none" stroke="#444" stroke-width="1.3"/>
<rect x="27" y="302.3" width="35.4" height="25.6" fill="#93C47D"/>
<rect x="62.4" y="302.3" width="22.9" height="25.6" fill="#E8872C"/>
<rect x="85.3" y="302.3" width="41.4" height="25.6" fill="#C0504D"/>
<rect x="126.7" y="302.3" width="23.7" height="25.6" fill="#C394C8"/>
<rect x="27" y="336.1" width="24.1" height="25.6" fill="#93C47D"/>
<rect x="51.1" y="336.1" width="50.2" height="25.6" fill="#F0CB7A"/>
<rect x="101.3" y="336.1" width="23.7" height="25.6" fill="#C0504D"/>
<rect x="125" y="336.1" width="25.2" height="25.6" fill="#C394C8"/>
<rect x="27" y="369.9" width="23.8" height="25.6" fill="#93C47D"/>
<rect x="50.8" y="369.9" width="18.4" height="25.6" fill="#93A9D6"/>
<rect x="69.2" y="369.9" width="19.2" height="25.6" fill="#3867B0"/>
<rect x="88.4" y="369.9" width="41.9" height="25.6" fill="#C0504D"/>
<rect x="130.3" y="369.9" width="19.4" height="25.6" fill="#C394C8"/>
<text x="85.2" y="434.1" text-anchor="middle" font-size="21.8" fill="#111">Expression</text>
<text x="84.7" y="459.4" text-anchor="middle" font-size="21.8" fill="#111">analysis</text>
<rect x="197.5" y="344.7" width="183.5" height="10" fill="#9a9a9a" stroke="#555" stroke-width="1"/>
<path d="M199.2,344.5 V325.2 L207.35,319.5 L215.5,325.2 V344.5 Z" fill="#F8C9A8" stroke="#D9844A" stroke-width="1"/>
<text x="207.65" y="340.3" text-anchor="middle" font-size="18" fill="#111">C</text>
<path d="M219.9,344.5 V321.2 L228.05,327 L236.20000000000002,321.2 V344.5 Z" fill="#E8B5F0" stroke="#A040B8" stroke-width="1"/>
<text x="228.35000000000002" y="340.3" text-anchor="middle" font-size="18" fill="#111">G</text>
<path d="M239.3,344.5 V322.9 Q247.45000000000002,327.5 255.60000000000002,322.9 V344.5 Z" fill="#A8E4CF" stroke="#2E9A70" stroke-width="1"/>
<text x="247.75000000000003" y="340.3" text-anchor="middle" font-size="18" fill="#111">T</text>
<path d="M258.9,344.5 V325.2 L267.04999999999995,319.5 L275.2,325.2 V344.5 Z" fill="#F8C9A8" stroke="#D9844A" stroke-width="1"/>
<text x="267.34999999999997" y="340.3" text-anchor="middle" font-size="18" fill="#111">C</text>
<path d="M278.7,344.5 V325.2 L286.84999999999997,319.5 L295.0,325.2 V344.5 Z" fill="#F8C9A8" stroke="#D9844A" stroke-width="1"/>
<text x="287.15" y="340.3" text-anchor="middle" font-size="18" fill="#111">C</text>
<path d="M299.2,344.5 V328 Q299.2,321.3 307.34999999999997,321.3 Q315.5,321.3 315.5,328 V344.5 Z" fill="#A7BDF2" stroke="#3355CC" stroke-width="1"/>
<text x="307.65" y="340.3" text-anchor="middle" font-size="18" fill="#111">A</text>
<path d="M319,344.5 V325.2 L327.15,319.5 L335.3,325.2 V344.5 Z" fill="#F8C9A8" stroke="#D9844A" stroke-width="1"/>
<text x="327.45" y="340.3" text-anchor="middle" font-size="18" fill="#111">C</text>
<path d="M339,344.5 V325.2 L347.15,319.5 L355.3,325.2 V344.5 Z" fill="#F8C9A8" stroke="#D9844A" stroke-width="1"/>
<text x="347.45" y="340.3" text-anchor="middle" font-size="18" fill="#111">C</text>
<path d="M359.2,344.5 V328 Q359.2,321.3 367.34999999999997,321.3 Q375.5,321.3 375.5,328 V344.5 Z" fill="#A7BDF2" stroke="#3355CC" stroke-width="1"/>
<text x="367.65" y="340.3" text-anchor="middle" font-size="18" fill="#111">A</text>
<path d="M279,293.5 V270.8 Q286.8,274.5 294.7,270.8 V293.5 Z" fill="#B8243A"/>
<text x="286.9" y="289.7" text-anchor="middle" font-size="18" fill="#fff" stroke="#fff" stroke-width="0.5">T</text>
<line x1="287.1" y1="297.3" x2="287.1" y2="309" stroke="#D0333A" stroke-width="1.6"/>
<path d="M283.3,307 L290.9,307 L287.1,315.8 Z" fill="#D0333A"/>
<text x="300" y="304.4" font-size="17.6" fill="#111">Mutation</text>
<path d="M259.5,357.5 V361 a3,3 0 0 0 3,3 H313 a3,3 0 0 0 3,-3 V357.5 M288.1,364 V376" fill="none" stroke="#333" stroke-width="1.1"/>
<path d="M285.3,372.5 L290.9,372.5 L288.1,378 Z" fill="#333"/>
<text x="295.6" y="391.5" text-anchor="middle" font-size="17.6" fill="#111">NRAS G12D</text>
<text x="293.6" y="432.9" text-anchor="middle" font-size="21.8" fill="#111">Mutation</text>
<text x="296.6" y="458.6" text-anchor="middle" font-size="21.8" fill="#111">identification</text>
<text x="664" y="100.7" text-anchor="middle" font-size="21.8" fill="#662D91">WT</text>
<text x="663.5" y="135.1" text-anchor="middle" font-size="21.8" fill="#33A145"><tspan font-style="italic">Nras</tspan><tspan font-size="12" dy="-8.3">+/- </tspan><tspan dy="8.3">(N</tspan><tspan font-size="12" dy="-8.3">G/+</tspan><tspan dy="8.3">)</tspan></text>
<text x="664" y="164.9" text-anchor="middle" font-size="21.8" fill="#2B3990"><tspan font-style="italic">Cdkn2a</tspan><tspan font-size="12" dy="-8.3">+/- </tspan><tspan dy="8.3">(C</tspan><tspan font-size="12" dy="-8.3">+/-</tspan><tspan dy="8.3">)</tspan></text>
<text x="664" y="195.5" text-anchor="middle" font-size="21.8" fill="#E3262B"><tspan font-style="italic">Nras</tspan><tspan font-size="12" dy="-8.3">+/-</tspan><tspan dy="8.3" font-style="italic">Cdkn2a</tspan><tspan font-size="12" dy="-8.3">+/- </tspan><tspan dy="8.3">(N</tspan><tspan font-size="12" dy="-8.3">G/+</tspan><tspan dy="8.3">;C</tspan><tspan font-size="12" dy="-8.3">+/-</tspan><tspan dy="8.3">)</tspan></text>
<text x="595.5" y="255" font-size="21.8" fill="#111">scRNAseq</text>
<path d="M719.5,237.5 L682,284" fill="none" stroke="#333" stroke-width="1.1"/>
<path d="M680.5,286 L681.5,279.5 L686,283 Z" fill="#222"/>
<path d="M777.5,236.3 L807,284" fill="none" stroke="#333" stroke-width="1.1"/>
<path d="M808,286.3 L802.5,282.5 L807.5,279.8 Z" fill="#222"/>
<rect x="607.00" y="310.20" width="22.34" height="2.51" fill="rgb(177, 205, 231)"/>
<rect x="629.04" y="310.20" width="22.34" height="2.51" fill="rgb(177, 205, 231)"/>
<rect x="651.08" y="310.20" width="22.34" height="2.51" fill="rgb(218, 229, 239)"/>
<rect x="673.12" y="310.20" width="22.34" height="2.51" fill="rgb(233, 237, 242)"/>
<rect x="695.16" y="310.20" width="22.34" height="2.51" fill="rgb(218, 229, 239)"/>
<rect x="607.00" y="312.41" width="22.34" height="2.51" fill="rgb(247, 245, 244)"/>
<rect x="629.04" y="312.41" width="22.34" height="2.51" fill="rgb(247, 229, 220)"/>
<rect x="651.08" y="312.41" width="22.34" height="2.51" fill="rgb(247, 234, 228)"/>
<rect x="673.12" y="312.41" width="22.34" height="2.51" fill="rgb(247, 240, 236)"/>
<rect x="695.16" y="312.41" width="22.34" height="2.51" fill="rgb(247, 245, 244)"/>
<rect x="607.00" y="314.62" width="22.34" height="2.51" fill="rgb(157, 193, 226)"/>
<rect x="629.04" y="314.62" width="22.34" height="2.51" fill="rgb(157, 193, 226)"/>
<rect x="651.08" y="314.62" width="22.34" height="2.51" fill="rgb(204, 221, 236)"/>
<rect x="673.12" y="314.62" width="22.34" height="2.51" fill="rgb(204, 221, 236)"/>
<rect x="695.16" y="314.62" width="22.34" height="2.51" fill="rgb(204, 221, 236)"/>
<rect x="607.00" y="316.83" width="22.34" height="2.51" fill="rgb(218, 229, 239)"/>
<rect x="629.04" y="316.83" width="22.34" height="2.51" fill="rgb(218, 229, 239)"/>
<rect x="651.08" y="316.83" width="22.34" height="2.51" fill="rgb(233, 237, 242)"/>
<rect x="673.12" y="316.83" width="22.34" height="2.51" fill="rgb(218, 229, 239)"/>
<rect x="695.16" y="316.83" width="22.34" height="2.51" fill="rgb(183, 209, 232)"/>
<rect x="607.00" y="319.04" width="22.34" height="2.51" fill="rgb(190, 213, 234)"/>
<rect x="629.04" y="319.04" width="22.34" height="2.51" fill="rgb(204, 221, 236)"/>
<rect x="651.08" y="319.04" width="22.34" height="2.51" fill="rgb(157, 193, 226)"/>
<rect x="673.12" y="319.04" width="22.34" height="2.51" fill="rgb(218, 229, 239)"/>
<rect x="695.16" y="319.04" width="22.34" height="2.51" fill="rgb(170, 201, 229)"/>
<rect x="607.00" y="321.24" width="22.34" height="2.51" fill="rgb(247, 245, 244)"/>
<rect x="629.04" y="321.24" width="22.34" height="2.51" fill="rgb(247, 240, 236)"/>
<rect x="651.08" y="321.24" width="22.34" height="2.51" fill="rgb(247, 245, 244)"/>
<rect x="673.12" y="321.24" width="22.34" height="2.51" fill="rgb(247, 245, 244)"/>
<rect x="695.16" y="321.24" width="22.34" height="2.51" fill="rgb(233, 237, 242)"/>
<rect x="607.00" y="323.45" width="22.34" height="2.51" fill="rgb(247, 245, 244)"/>
<rect x="629.04" y="323.45" width="22.34" height="2.51" fill="rgb(211, 225, 238)"/>
<rect x="651.08" y="323.45" width="22.34" height="2.51" fill="rgb(247, 245, 244)"/>
<rect x="673.12" y="323.45" width="22.34" height="2.51" fill="rgb(226, 233, 240)"/>
<rect x="695.16" y="323.45" width="22.34" height="2.51" fill="rgb(218, 229, 239)"/>
<rect x="607.00" y="325.66" width="22.34" height="2.51" fill="rgb(247, 240, 236)"/>
<rect x="629.04" y="325.66" width="22.34" height="2.51" fill="rgb(211, 225, 238)"/>
<rect x="651.08" y="325.66" width="22.34" height="2.51" fill="rgb(247, 245, 244)"/>
<rect x="673.12" y="325.66" width="22.34" height="2.51" fill="rgb(233, 237, 242)"/>
<rect x="695.16" y="325.66" width="22.34" height="2.51" fill="rgb(233, 237, 242)"/>
<rect x="607.00" y="327.87" width="22.34" height="2.51" fill="rgb(247, 234, 228)"/>
<rect x="629.04" y="327.87" width="22.34" height="2.51" fill="rgb(247, 229, 220)"/>
<rect x="651.08" y="327.87" width="22.34" height="2.51" fill="rgb(218, 229, 239)"/>
<rect x="673.12" y="327.87" width="22.34" height="2.51" fill="rgb(247, 213, 197)"/>
<rect x="695.16" y="327.87" width="22.34" height="2.51" fill="rgb(247, 240, 236)"/>
<rect x="607.00" y="330.08" width="22.34" height="2.51" fill="rgb(218, 229, 239)"/>
<rect x="629.04" y="330.08" width="22.34" height="2.51" fill="rgb(247, 245, 244)"/>
<rect x="651.08" y="330.08" width="22.34" height="2.51" fill="rgb(240, 241, 243)"/>
<rect x="673.12" y="330.08" width="22.34" height="2.51" fill="rgb(247, 229, 220)"/>
<rect x="695.16" y="330.08" width="22.34" height="2.51" fill="rgb(247, 213, 197)"/>
<rect x="607.00" y="332.29" width="22.34" height="2.51" fill="rgb(247, 240, 236)"/>
<rect x="629.04" y="332.29" width="22.34" height="2.51" fill="rgb(247, 224, 213)"/>
<rect x="651.08" y="332.29" width="22.34" height="2.51" fill="rgb(240, 241, 243)"/>
<rect x="673.12" y="332.29" width="22.34" height="2.51" fill="rgb(247, 240, 236)"/>
<rect x="695.16" y="332.29" width="22.34" height="2.51" fill="rgb(218, 229, 239)"/>
<rect x="607.00" y="334.50" width="22.34" height="2.51" fill="rgb(247, 240, 236)"/>
<rect x="629.04" y="334.50" width="22.34" height="2.51" fill="rgb(247, 224, 213)"/>
<rect x="651.08" y="334.50" width="22.34" height="2.51" fill="rgb(247, 234, 228)"/>
<rect x="673.12" y="334.50" width="22.34" height="2.51" fill="rgb(247, 245, 244)"/>
<rect x="695.16" y="334.50" width="22.34" height="2.51" fill="rgb(247, 224, 213)"/>
<rect x="607.00" y="336.71" width="22.34" height="2.51" fill="rgb(247, 245, 244)"/>
<rect x="629.04" y="336.71" width="22.34" height="2.51" fill="rgb(240, 241, 243)"/>
<rect x="651.08" y="336.71" width="22.34" height="2.51" fill="rgb(247, 245, 244)"/>
<rect x="673.12" y="336.71" width="22.34" height="2.51" fill="rgb(247, 213, 197)"/>
<rect x="695.16" y="336.71" width="22.34" height="2.51" fill="rgb(247, 245, 244)"/>
<rect x="607.00" y="338.92" width="22.34" height="2.51" fill="rgb(247, 245, 244)"/>
<rect x="629.04" y="338.92" width="22.34" height="2.51" fill="rgb(218, 229, 239)"/>
<rect x="651.08" y="338.92" width="22.34" height="2.51" fill="rgb(218, 229, 239)"/>
<rect x="673.12" y="338.92" width="22.34" height="2.51" fill="rgb(247, 240, 236)"/>
<rect x="695.16" y="338.92" width="22.34" height="2.51" fill="rgb(247, 240, 236)"/>
<rect x="607.00" y="341.12" width="22.34" height="2.51" fill="rgb(247, 245, 244)"/>
<rect x="629.04" y="341.12" width="22.34" height="2.51" fill="rgb(247, 245, 244)"/>
<rect x="651.08" y="341.12" width="22.34" height="2.51" fill="rgb(247, 234, 228)"/>
<rect x="673.12" y="341.12" width="22.34" height="2.51" fill="rgb(247, 229, 220)"/>
<rect x="695.16" y="341.12" width="22.34" height="2.51" fill="rgb(247, 240, 236)"/>
<rect x="607.00" y="343.33" width="22.34" height="2.51" fill="rgb(247, 240, 236)"/>
<rect x="629.04" y="343.33" width="22.34" height="2.51" fill="rgb(247, 245, 244)"/>
<rect x="651.08" y="343.33" width="22.34" height="2.51" fill="rgb(247, 240, 236)"/>
<rect x="673.12" y="343.33" width="22.34" height="2.51" fill="rgb(247, 224, 213)"/>
<rect x="695.16" y="343.33" width="22.34" height="2.51" fill="rgb(247, 234, 228)"/>
<rect x="607.00" y="345.54" width="22.34" height="2.51" fill="rgb(218, 229, 239)"/>
<rect x="629.04" y="345.54" width="22.34" height="2.51" fill="rgb(247, 229, 220)"/>
<rect x="651.08" y="345.54" width="22.34" height="2.51" fill="rgb(247, 224, 213)"/>
<rect x="673.12" y="345.54" width="22.34" height="2.51" fill="rgb(247, 245, 244)"/>
<rect x="695.16" y="345.54" width="22.34" height="2.51" fill="rgb(247, 245, 244)"/>
<rect x="607.00" y="347.75" width="22.34" height="2.51" fill="rgb(247, 234, 228)"/>
<rect x="629.04" y="347.75" width="22.34" height="2.51" fill="rgb(240, 241, 243)"/>
<rect x="651.08" y="347.75" width="22.34" height="2.51" fill="rgb(247, 229, 220)"/>
<rect x="673.12" y="347.75" width="22.34" height="2.51" fill="rgb(247, 234, 228)"/>
<rect x="695.16" y="347.75" width="22.34" height="2.51" fill="rgb(218, 229, 239)"/>
<rect x="607.00" y="349.96" width="22.34" height="2.51" fill="rgb(247, 229, 220)"/>
<rect x="629.04" y="349.96" width="22.34" height="2.51" fill="rgb(240, 241, 243)"/>
<rect x="651.08" y="349.96" width="22.34" height="2.51" fill="rgb(247, 234, 228)"/>
<rect x="673.12" y="349.96" width="22.34" height="2.51" fill="rgb(247, 229, 220)"/>
<rect x="695.16" y="349.96" width="22.34" height="2.51" fill="rgb(247, 234, 228)"/>
<rect x="607.00" y="352.17" width="22.34" height="2.51" fill="rgb(247, 213, 197)"/>
<rect x="629.04" y="352.17" width="22.34" height="2.51" fill="rgb(247, 229, 220)"/>
<rect x="651.08" y="352.17" width="22.34" height="2.51" fill="rgb(247, 245, 244)"/>
<rect x="673.12" y="352.17" width="22.34" height="2.51" fill="rgb(247, 213, 197)"/>
<rect x="695.16" y="352.17" width="22.34" height="2.51" fill="rgb(247, 213, 197)"/>
<rect x="607.00" y="354.38" width="22.34" height="2.51" fill="rgb(244, 197, 178)"/>
<rect x="629.04" y="354.38" width="22.34" height="2.51" fill="rgb(247, 224, 213)"/>
<rect x="651.08" y="354.38" width="22.34" height="2.51" fill="rgb(247, 229, 220)"/>
<rect x="673.12" y="354.38" width="22.34" height="2.51" fill="rgb(247, 218, 205)"/>
<rect x="695.16" y="354.38" width="22.34" height="2.51" fill="rgb(247, 229, 220)"/>
<rect x="607.00" y="356.59" width="22.34" height="2.51" fill="rgb(244, 197, 178)"/>
<rect x="629.04" y="356.59" width="22.34" height="2.51" fill="rgb(247, 218, 205)"/>
<rect x="651.08" y="356.59" width="22.34" height="2.51" fill="rgb(240, 181, 158)"/>
<rect x="673.12" y="356.59" width="22.34" height="2.51" fill="rgb(247, 213, 197)"/>
<rect x="695.16" y="356.59" width="22.34" height="2.51" fill="rgb(247, 229, 220)"/>
<rect x="607.00" y="358.80" width="22.34" height="2.51" fill="rgb(245, 205, 187)"/>
<rect x="629.04" y="358.80" width="22.34" height="2.51" fill="rgb(240, 181, 158)"/>
<rect x="651.08" y="358.80" width="22.34" height="2.51" fill="rgb(247, 213, 197)"/>
<rect x="673.12" y="358.80" width="22.34" height="2.51" fill="rgb(247, 218, 205)"/>
<rect x="695.16" y="358.80" width="22.34" height="2.51" fill="rgb(247, 213, 197)"/>
<rect x="607.00" y="361.00" width="22.34" height="2.51" fill="rgb(245, 205, 187)"/>
<rect x="629.04" y="361.00" width="22.34" height="2.51" fill="rgb(240, 181, 158)"/>
<rect x="651.08" y="361.00" width="22.34" height="2.51" fill="rgb(247, 229, 220)"/>
<rect x="673.12" y="361.00" width="22.34" height="2.51" fill="rgb(247, 213, 197)"/>
<rect x="695.16" y="361.00" width="22.34" height="2.51" fill="rgb(247, 229, 220)"/>
<rect x="607.00" y="363.21" width="22.34" height="2.51" fill="rgb(244, 197, 178)"/>
<rect x="629.04" y="363.21" width="22.34" height="2.51" fill="rgb(247, 224, 213)"/>
<rect x="651.08" y="363.21" width="22.34" height="2.51" fill="rgb(245, 205, 187)"/>
<rect x="673.12" y="363.21" width="22.34" height="2.51" fill="rgb(247, 224, 213)"/>
<rect x="695.16" y="363.21" width="22.34" height="2.51" fill="rgb(247, 229, 220)"/>
<rect x="607.00" y="365.42" width="22.34" height="2.51" fill="rgb(240, 181, 158)"/>
<rect x="629.04" y="365.42" width="22.34" height="2.51" fill="rgb(247, 224, 213)"/>
<rect x="651.08" y="365.42" width="22.34" height="2.51" fill="rgb(240, 181, 158)"/>
<rect x="673.12" y="365.42" width="22.34" height="2.51" fill="rgb(247, 213, 197)"/>
<rect x="695.16" y="365.42" width="22.34" height="2.51" fill="rgb(247, 218, 205)"/>
<rect x="607.00" y="367.63" width="22.34" height="2.51" fill="rgb(245, 205, 187)"/>
<rect x="629.04" y="367.63" width="22.34" height="2.51" fill="rgb(247, 218, 205)"/>
<rect x="651.08" y="367.63" width="22.34" height="2.51" fill="rgb(245, 205, 187)"/>
<rect x="673.12" y="367.63" width="22.34" height="2.51" fill="rgb(247, 218, 205)"/>
<rect x="695.16" y="367.63" width="22.34" height="2.51" fill="rgb(240, 181, 158)"/>
<rect x="607.00" y="369.84" width="22.34" height="2.51" fill="rgb(247, 213, 197)"/>
<rect x="629.04" y="369.84" width="22.34" height="2.51" fill="rgb(247, 229, 220)"/>
<rect x="651.08" y="369.84" width="22.34" height="2.51" fill="rgb(245, 205, 187)"/>
<rect x="673.12" y="369.84" width="22.34" height="2.51" fill="rgb(244, 197, 178)"/>
<rect x="695.16" y="369.84" width="22.34" height="2.51" fill="rgb(240, 181, 158)"/>
<rect x="607.00" y="372.05" width="22.34" height="2.51" fill="rgb(240, 181, 158)"/>
<rect x="629.04" y="372.05" width="22.34" height="2.51" fill="rgb(247, 218, 205)"/>
<rect x="651.08" y="372.05" width="22.34" height="2.51" fill="rgb(240, 181, 158)"/>
<rect x="673.12" y="372.05" width="22.34" height="2.51" fill="rgb(247, 218, 205)"/>
<rect x="695.16" y="372.05" width="22.34" height="2.51" fill="rgb(247, 229, 220)"/>
<rect x="607.00" y="374.26" width="22.34" height="2.51" fill="rgb(247, 213, 197)"/>
<rect x="629.04" y="374.26" width="22.34" height="2.51" fill="rgb(247, 229, 220)"/>
<rect x="651.08" y="374.26" width="22.34" height="2.51" fill="rgb(247, 224, 213)"/>
<rect x="673.12" y="374.26" width="22.34" height="2.51" fill="rgb(247, 218, 205)"/>
<rect x="695.16" y="374.26" width="22.34" height="2.51" fill="rgb(245, 205, 187)"/>
<rect x="607.00" y="376.47" width="22.34" height="2.51" fill="rgb(245, 205, 187)"/>
<rect x="629.04" y="376.47" width="22.34" height="2.51" fill="rgb(247, 218, 205)"/>
<rect x="651.08" y="376.47" width="22.34" height="2.51" fill="rgb(247, 224, 213)"/>
<rect x="673.12" y="376.47" width="22.34" height="2.51" fill="rgb(247, 218, 205)"/>
<rect x="695.16" y="376.47" width="22.34" height="2.51" fill="rgb(247, 218, 205)"/>
<rect x="607.00" y="378.68" width="22.34" height="2.51" fill="rgb(233, 160, 136)"/>
<rect x="629.04" y="378.68" width="22.34" height="2.51" fill="rgb(236, 171, 147)"/>
<rect x="651.08" y="378.68" width="22.34" height="2.51" fill="rgb(245, 205, 187)"/>
<rect x="673.12" y="378.68" width="22.34" height="2.51" fill="rgb(242, 189, 168)"/>
<rect x="695.16" y="378.68" width="22.34" height="2.51" fill="rgb(233, 160, 136)"/>
<rect x="607.00" y="380.88" width="22.34" height="2.51" fill="rgb(242, 189, 168)"/>
<rect x="629.04" y="380.88" width="22.34" height="2.51" fill="rgb(242, 189, 168)"/>
<rect x="651.08" y="380.88" width="22.34" height="2.51" fill="rgb(244, 197, 178)"/>
<rect x="673.12" y="380.88" width="22.34" height="2.51" fill="rgb(226, 140, 115)"/>
<rect x="695.16" y="380.88" width="22.34" height="2.51" fill="rgb(245, 205, 187)"/>
<rect x="607.00" y="383.09" width="22.34" height="2.51" fill="rgb(233, 160, 136)"/>
<rect x="629.04" y="383.09" width="22.34" height="2.51" fill="rgb(244, 197, 178)"/>
<rect x="651.08" y="383.09" width="22.34" height="2.51" fill="rgb(233, 160, 136)"/>
<rect x="673.12" y="383.09" width="22.34" height="2.51" fill="rgb(233, 160, 136)"/>
<rect x="695.16" y="383.09" width="22.34" height="2.51" fill="rgb(242, 189, 168)"/>
<rect x="607.00" y="385.30" width="22.34" height="2.51" fill="rgb(240, 181, 158)"/>
<rect x="629.04" y="385.30" width="22.34" height="2.51" fill="rgb(244, 197, 178)"/>
<rect x="651.08" y="385.30" width="22.34" height="2.51" fill="rgb(233, 160, 136)"/>
<rect x="673.12" y="385.30" width="22.34" height="2.51" fill="rgb(245, 205, 187)"/>
<rect x="695.16" y="385.30" width="22.34" height="2.51" fill="rgb(245, 205, 187)"/>
<rect x="607.00" y="387.51" width="22.34" height="2.51" fill="rgb(236, 171, 147)"/>
<rect x="629.04" y="387.51" width="22.34" height="2.51" fill="rgb(236, 171, 147)"/>
<rect x="651.08" y="387.51" width="22.34" height="2.51" fill="rgb(240, 181, 158)"/>
<rect x="673.12" y="387.51" width="22.34" height="2.51" fill="rgb(245, 205, 187)"/>
<rect x="695.16" y="387.51" width="22.34" height="2.51" fill="rgb(244, 197, 178)"/>
<rect x="607.00" y="389.72" width="22.34" height="2.51" fill="rgb(233, 160, 136)"/>
<rect x="629.04" y="389.72" width="22.34" height="2.51" fill="rgb(236, 171, 147)"/>
<rect x="651.08" y="389.72" width="22.34" height="2.51" fill="rgb(242, 189, 168)"/>
<rect x="673.12" y="389.72" width="22.34" height="2.51" fill="rgb(226, 140, 115)"/>
<rect x="695.16" y="389.72" width="22.34" height="2.51" fill="rgb(242, 189, 168)"/>
<rect x="607.00" y="391.93" width="22.34" height="2.51" fill="rgb(240, 181, 158)"/>
<rect x="629.04" y="391.93" width="22.34" height="2.51" fill="rgb(233, 160, 136)"/>
<rect x="651.08" y="391.93" width="22.34" height="2.51" fill="rgb(240, 181, 158)"/>
<rect x="673.12" y="391.93" width="22.34" height="2.51" fill="rgb(244, 197, 178)"/>
<rect x="695.16" y="391.93" width="22.34" height="2.51" fill="rgb(245, 205, 187)"/>
<rect x="607.00" y="394.14" width="22.34" height="2.51" fill="rgb(233, 160, 136)"/>
<rect x="629.04" y="394.14" width="22.34" height="2.51" fill="rgb(245, 205, 187)"/>
<rect x="651.08" y="394.14" width="22.34" height="2.51" fill="rgb(226, 140, 115)"/>
<rect x="673.12" y="394.14" width="22.34" height="2.51" fill="rgb(240, 181, 158)"/>
<rect x="695.16" y="394.14" width="22.34" height="2.51" fill="rgb(242, 189, 168)"/>
<rect x="607.00" y="396.35" width="22.34" height="2.51" fill="rgb(226, 140, 115)"/>
<rect x="629.04" y="396.35" width="22.34" height="2.51" fill="rgb(244, 197, 178)"/>
<rect x="651.08" y="396.35" width="22.34" height="2.51" fill="rgb(244, 197, 178)"/>
<rect x="673.12" y="396.35" width="22.34" height="2.51" fill="rgb(233, 160, 136)"/>
<rect x="695.16" y="396.35" width="22.34" height="2.51" fill="rgb(236, 171, 147)"/>
<rect x="607.00" y="398.56" width="22.34" height="2.51" fill="rgb(244, 197, 178)"/>
<rect x="629.04" y="398.56" width="22.34" height="2.51" fill="rgb(233, 160, 136)"/>
<rect x="651.08" y="398.56" width="22.34" height="2.51" fill="rgb(226, 140, 115)"/>
<rect x="673.12" y="398.56" width="22.34" height="2.51" fill="rgb(240, 181, 158)"/>
<rect x="695.16" y="398.56" width="22.34" height="2.51" fill="rgb(245, 205, 187)"/>
<rect x="607.00" y="400.76" width="22.34" height="2.51" fill="rgb(244, 197, 178)"/>
<rect x="629.04" y="400.76" width="22.34" height="2.51" fill="rgb(240, 181, 158)"/>
<rect x="651.08" y="400.76" width="22.34" height="2.51" fill="rgb(242, 189, 168)"/>
<rect x="673.12" y="400.76" width="22.34" height="2.51" fill="rgb(244, 197, 178)"/>
<rect x="695.16" y="400.76" width="22.34" height="2.51" fill="rgb(245, 205, 187)"/>
<rect x="607.00" y="402.97" width="22.34" height="2.51" fill="rgb(187, 58, 69)"/>
<rect x="629.04" y="402.97" width="22.34" height="2.51" fill="rgb(147, 32, 51)"/>
<rect x="651.08" y="402.97" width="22.34" height="2.51" fill="rgb(147, 32, 51)"/>
<rect x="673.12" y="402.97" width="22.34" height="2.51" fill="rgb(187, 58, 69)"/>
<rect x="695.16" y="402.97" width="22.34" height="2.51" fill="rgb(227, 144, 119)"/>
<rect x="607.00" y="405.18" width="22.34" height="2.51" fill="rgb(187, 58, 69)"/>
<rect x="629.04" y="405.18" width="22.34" height="2.51" fill="rgb(147, 32, 51)"/>
<rect x="651.08" y="405.18" width="22.34" height="2.51" fill="rgb(147, 32, 51)"/>
<rect x="673.12" y="405.18" width="22.34" height="2.51" fill="rgb(187, 58, 69)"/>
<rect x="695.16" y="405.18" width="22.34" height="2.51" fill="rgb(227, 144, 119)"/>
<rect x="607.00" y="407.39" width="22.34" height="2.51" fill="rgb(236, 171, 147)"/>
<rect x="629.04" y="407.39" width="22.34" height="2.51" fill="rgb(236, 171, 147)"/>
<rect x="651.08" y="407.39" width="22.34" height="2.51" fill="rgb(240, 181, 158)"/>
<rect x="673.12" y="407.39" width="22.34" height="2.51" fill="rgb(236, 171, 147)"/>
<rect x="695.16" y="407.39" width="22.34" height="2.51" fill="rgb(233, 160, 136)"/>
<rect x="607" y="310.2" width="110.2" height="99.4" fill="none" stroke="#555" stroke-width="1.3"/>
<text x="662.6" y="304.2" text-anchor="middle" font-size="12.5" fill="#333" stroke="#333" stroke-width="0.4">Genes</text>
<text transform="translate(600.6,361.5) rotate(-90)" text-anchor="middle" font-size="12.5" fill="#333" stroke="#333" stroke-width="0.4">Cells</text>
<text x="658.6" y="436.6" text-anchor="middle" font-size="21.8" fill="#111">Expression</text>
<text x="658.7" y="461.6" text-anchor="middle" font-size="21.8" fill="#111">analysis</text>
<path d="M766.4,306.8 V406.3 H915.5" fill="none" stroke="#555" stroke-width="1.2"/>
<path d="M766.4,306.8 H897.4" stroke="#9B6FC0" stroke-width="1.6" fill="none"/>
<path d="M797.4,306.8 V314.4 H798.4 V323.7 H800.1 V335.5 H805.5 V356.6 H806.9 V364.1 H808.9 V371.7 H810.6 V378.5 H813.1 V392 H815.6 V400.4 H817.3 V406.3" stroke="#E0443A" stroke-width="1.1" fill="none"/>
<path d="M821.6,306.8 V314.4 H844.3 V322 H863.2 V328.4 H872.6 V336.3 H884 V342.7 H897.4" stroke="#5BB04F" stroke-width="1.1" fill="none"/>
<path d="M869.3,306.8 V314.4 H884 V321.6 H897.4" stroke="#3E63B0" stroke-width="1.1" fill="none"/>
<path d="M878.9,305 V308.6 M884.5,305 V308.6 M897.2,305 V308.6" stroke="#9B6FC0" stroke-width="0.8"/>
<path d="M885.8,320 V323.2 M897.2,320 V323.2" stroke="#3E63B0" stroke-width="0.8"/>
<path d="M886.5,341 V344.4 M897.2,341 V344.4" stroke="#5BB04F" stroke-width="0.8"/>
<text x="836.1" y="436.6" text-anchor="middle" font-size="21.8" fill="#111">Phenotype</text>
<text x="835.3" y="461.6" text-anchor="middle" font-size="21.8" fill="#111">analysis</text>
<path d="M389,542 Q480,478 571,542" fill="none" stroke="#1a1a1a" stroke-width="2.6"/>
<path d="M380,550.2 L385.6,538.5 L394,547.5 Z" fill="#1a1a1a"/>
<path d="M580,550.2 L574.4,538.5 L566,547.5 Z" fill="#1a1a1a"/>
<circle cx="439.5" cy="624" r="46" fill="#EDE5FA"/>
<circle cx="502.8" cy="624" r="46" fill="#FDF0DC"/>
<clipPath id="vc"><circle cx="439.5" cy="624" r="46"/></clipPath>
<circle cx="502.8" cy="624" r="46" fill="#EEE0DC" clip-path="url(#vc)"/>
<text x="478.4" y="704.2" text-anchor="middle" font-size="21.8" fill="#111">Key genes</text>
<line x1="377.5" y1="628.2" x2="317" y2="628.2" stroke="#555" stroke-width="1.2"/>
<path d="M319.5,625.3 L315,628.2 L319.5,631.1" fill="none" stroke="#333" stroke-width="1.2"/>
<line x1="584" y1="627.9" x2="643" y2="627.9" stroke="#8a8a8a" stroke-width="1.3"/>
<path d="M642,625.3 L647.2,627.9 L642,630.5 Z" fill="#2a2020"/>
<path d="M172,607 V620 A51.5,28 0 0 0 275,620 V607" fill="#D4ECF4" stroke="#8a8a8a" stroke-width="0.7"/>
<path d="M172,612 V620 A51.5,28 0 0 0 200,645 A51.5,28 0 0 1 178,625 Z" fill="#BFDDEA"/>
<ellipse cx="223.5" cy="607" rx="51.5" ry="28" fill="#DDF0F6" stroke="#888" stroke-width="0.7"/>
<ellipse cx="223.5" cy="609.2" rx="50.5" ry="24.8" fill="#C4E3EE" stroke="#999" stroke-width="0.5"/>
<ellipse cx="214.55" cy="597.45" rx="7.6" ry="5.2" transform="rotate(-10 213.75 596.25)" fill="#8fc2cf" opacity="0.6"/>
<ellipse cx="213.75" cy="596.25" rx="7.6" ry="5.2" transform="rotate(-10 213.75 596.25)" fill="#A65CA6" stroke="#934C92" stroke-width="0.4"/>
<ellipse cx="214.25" cy="596.25" rx="2.2" ry="1.2" transform="rotate(-10 213.75 596.25)" fill="#964F95"/>
<ellipse cx="228.3" cy="603.7" rx="7.6" ry="5.2" transform="rotate(15 227.5 602.5)" fill="#8fc2cf" opacity="0.6"/>
<ellipse cx="227.5" cy="602.5" rx="7.6" ry="5.2" transform="rotate(15 227.5 602.5)" fill="#A65CA6" stroke="#934C92" stroke-width="0.4"/>
<ellipse cx="228.0" cy="602.5" rx="2.2" ry="1.2" transform="rotate(15 227.5 602.5)" fill="#964F95"/>
<ellipse cx="245.20000000000002" cy="604.3000000000001" rx="7.6" ry="5.2" transform="rotate(5 244.4 603.1)" fill="#8fc2cf" opacity="0.6"/>
<ellipse cx="244.4" cy="603.1" rx="7.6" ry="5.2" transform="rotate(5 244.4 603.1)" fill="#A65CA6" stroke="#934C92" stroke-width="0.4"/>
<ellipse cx="244.9" cy="603.1" rx="2.2" ry="1.2" transform="rotate(5 244.4 603.1)" fill="#964F95"/>
<ellipse cx="207.05" cy="608.1" rx="7.6" ry="5.2" transform="rotate(-20 206.25 606.9)" fill="#8fc2cf" opacity="0.6"/>
<ellipse cx="206.25" cy="606.9" rx="7.6" ry="5.2" transform="rotate(-20 206.25 606.9)" fill="#A65CA6" stroke="#934C92" stroke-width="0.4"/>
<ellipse cx="206.75" cy="606.9" rx="2.2" ry="1.2" transform="rotate(-20 206.25 606.9)" fill="#964F95"/>
<ellipse cx="220.8" cy="610.6" rx="7.6" ry="5.2" transform="rotate(10 220 609.4)" fill="#8fc2cf" opacity="0.6"/>
<ellipse cx="220" cy="609.4" rx="7.6" ry="5.2" transform="rotate(10 220 609.4)" fill="#A65CA6" stroke="#934C92" stroke-width="0.4"/>
<ellipse cx="220.5" cy="609.4" rx="2.2" ry="1.2" transform="rotate(10 220 609.4)" fill="#964F95"/>
<ellipse cx="242.70000000000002" cy="613.1" rx="7.6" ry="5.2" transform="rotate(-5 241.9 611.9)" fill="#8fc2cf" opacity="0.6"/>
<ellipse cx="241.9" cy="611.9" rx="7.6" ry="5.2" transform="rotate(-5 241.9 611.9)" fill="#A65CA6" stroke="#934C92" stroke-width="0.4"/>
<ellipse cx="242.4" cy="611.9" rx="2.2" ry="1.2" transform="rotate(-5 241.9 611.9)" fill="#964F95"/>
<ellipse cx="203.3" cy="618.7" rx="7.6" ry="5.2" transform="rotate(-15 202.5 617.5)" fill="#8fc2cf" opacity="0.6"/>
<ellipse cx="202.5" cy="617.5" rx="7.6" ry="5.2" transform="rotate(-15 202.5 617.5)" fill="#A65CA6" stroke="#934C92" stroke-width="0.4"/>
<ellipse cx="203.0" cy="617.5" rx="2.2" ry="1.2" transform="rotate(-15 202.5 617.5)" fill="#964F95"/>
<ellipse cx="217.05" cy="617.45" rx="7.6" ry="5.2" transform="rotate(5 216.25 616.25)" fill="#8fc2cf" opacity="0.6"/>
<ellipse cx="216.25" cy="616.25" rx="7.6" ry="5.2" transform="rotate(5 216.25 616.25)" fill="#A65CA6" stroke="#934C92" stroke-width="0.4"/>
<ellipse cx="216.75" cy="616.25" rx="2.2" ry="1.2" transform="rotate(5 216.25 616.25)" fill="#964F95"/>
<ellipse cx="231.4" cy="617.45" rx="7.6" ry="5.2" transform="rotate(10 230.6 616.25)" fill="#8fc2cf" opacity="0.6"/>
<ellipse cx="230.6" cy="616.25" rx="7.6" ry="5.2" transform="rotate(10 230.6 616.25)" fill="#A65CA6" stroke="#934C92" stroke-width="0.4"/>
<ellipse cx="231.1" cy="616.25" rx="2.2" ry="1.2" transform="rotate(10 230.6 616.25)" fill="#964F95"/>
<ellipse cx="218.3" cy="626.2" rx="7.6" ry="5.2" transform="rotate(-10 217.5 625)" fill="#8fc2cf" opacity="0.6"/>
<ellipse cx="217.5" cy="625" rx="7.6" ry="5.2" transform="rotate(-10 217.5 625)" fill="#A65CA6" stroke="#934C92" stroke-width="0.4"/>
<ellipse cx="218.0" cy="625" rx="2.2" ry="1.2" transform="rotate(-10 217.5 625)" fill="#964F95"/>
<ellipse cx="248.9" cy="622.45" rx="7.6" ry="5.2" transform="rotate(-5 248.1 621.25)" fill="#8fc2cf" opacity="0.6"/>
<ellipse cx="248.1" cy="621.25" rx="7.6" ry="5.2" transform="rotate(-5 248.1 621.25)" fill="#A65CA6" stroke="#934C92" stroke-width="0.4"/>
<ellipse cx="248.6" cy="621.25" rx="2.2" ry="1.2" transform="rotate(-5 248.1 621.25)" fill="#964F95"/>
<text x="220.2" y="678.3" text-anchor="middle" font-size="21.8" fill="#111">In vitro</text>
<text x="219.4" y="704" text-anchor="middle" font-size="21.8" fill="#111">experiments</text>
<text x="762.3" y="675.8" text-anchor="middle" font-size="21.8" fill="#111">In vivo</text>
<text x="762" y="700" text-anchor="middle" font-size="21.8" fill="#111">experiments</text>
<g>
<path d="M890,134 C898,138 906,143 905,151 C903,158 890,160.5 870,161.5 C840,162.8 815,163.3 800,165 C790,166.5 782,169 776,172 C783,167.5 792,164.5 802,163 C820,160.8 845,159.8 870,158.8 C888,158 899,155 899,150 C899,145 893,141 887,138 Z" fill="#e2e2e2" stroke="#777" stroke-width="0.7"/>
<path d="M787.6,133.3 C790,129 792,126 794,123.6 C798,119 802,115.5 806.4,110 C808,107 811,105 814,104.6 C816.5,104.3 817.8,105.5 817.7,107.5 L817.7,111.5 C822,109.5 830,108 840,107.3 C860,106.5 878,111 886,119 C890.5,124 892.5,130 891.5,135.5 C890,139.5 886,141.5 880,142.5 C874,143.3 869,143.5 866,144 C865.5,146.5 863,148.2 860,148.3 C856,148.4 852,147.6 849,146.2 C845,145 842,143.5 838,143 C833,144.5 828,146.5 824.9,147.7 C821,149.5 818,151 815,151.7 C812.5,152 810,151.5 810.2,150.3 C810.5,148.5 812,147 813.5,145.5 C815,143.5 816.5,141.5 818,139.8 C814,138.5 810,137.8 806,137.5 C802,137.3 799,137.5 796.8,137.3 C793,136.5 790,135 787.6,133.3 Z" fill="#e7e7e7" stroke="#666" stroke-width="0.8"/>
<path d="M818,139.8 C822,136 828,132 836,134 C846,138 860,141 875,140.5 C883,140 888,138 891,135 C890,139.5 886,141.5 880,142.5 C874,143.3 869,143.5 866,144 C860,145 852,145.5 845,144.5 C838,143 834,143.5 830,145 C826,146.5 822,147 818,148 Z" fill="#d3d3d3"/>
<path d="M808,128 C811,132 815,136 818,139.8 C814,138.5 810,137.8 806,137.5 Z" fill="#dcdcdc"/>
<path d="M817.7,114.8 C819,112.5 822,111.5 825,111.6 C830,111.8 835,113.5 835.3,117.2 C835.5,120.5 831,122 828,122.5 C825,123.2 822.5,124 820.9,124.4 C819,121 818,118 817.7,114.8 Z" fill="#e9e9e9" stroke="#666" stroke-width="0.8"/>
<path d="M821,119 C822.5,118.5 823,120 822,121.5" fill="none" stroke="#777" stroke-width="0.6"/>
<ellipse cx="804" cy="128.4" rx="2.9" ry="1.7" fill="#4a4a4a"/>
<path d="M797,137.5 L793,142 M798,137.8 L796,144 M799.5,138 L799.5,144.5 M801,138 L804,142 M788,131.5 L783,128.5 M788,132.5 L782.5,132 M788.5,133.5 L783.5,135.5" stroke="#666" stroke-width="0.5" fill="none"/>
<path d="M852,146.5 L850.5,148.5 M856,147.5 L855,149.5 M860,147.8 L860,149.8 M811,149 L809.5,151 M813.5,150.5 L812.5,152" stroke="#555" stroke-width="0.7"/>
</g>

<g>
<path d="M800,642 C812,641.5 830,642.5 846,643 C853,643.5 856,647 857.5,652 C858,655 857.8,657 857,658 C857,654 855.5,648 851,646.5 C840,645.2 815,645.5 800,645.2 Z" fill="#E9A3A3"/>
<path d="M750.7,594.1 C753,593.8 756,594.2 758,594.5 C763,594.8 767,595.1 771.1,595.4 C772,594.5 773.5,594 774.8,594.3 C777,594.8 778.3,596 778.3,597.8 C778.3,599.5 778.5,601 779.8,604.6 C783,604.3 786,604.2 788.6,604.6 C792,605.5 795,607.2 797.3,609.8 C800.5,612.5 802.5,615.5 803.4,618.5 C804.8,622 805.3,625 805.1,627.2 C805,631 804.5,634 803.4,636.8 C802.5,639.5 801.7,641.8 800.7,643.7 C795,644.8 790,644.8 785,644.6 C775,644.8 765,644.6 756.3,643.8 C758.5,641 760.5,638 761.1,635 C760.7,632.5 760.5,630.5 760.2,629 C758,628.5 757.5,626 757.3,622.8 C756.8,620 756.5,618 756.3,615.9 C755.5,613 755,610 754.6,607.2 C753.5,604.5 752.5,602 752,599.3 C751.5,597.5 751,595.8 750.7,594.1 Z" fill="#E8E2DE"/>
<path d="M789,628 C795,627 801,630 803.8,633 C803.5,637 802.2,640.5 800.7,643.7 C796,644.8 792,644.8 789,644.6 C790.5,640 791,635 790.5,632 C790,630.5 789.5,629 789,628 Z" fill="#DAD1CA"/>
<path d="M762,631 C765,631 768,634 769,638 C769.5,641 769,643 768.5,644.6 C765,644.6 761,644.3 757,643.8 C759,641 760.5,638 761.1,635 Z" fill="#DFD7D1"/>
<path d="M757.2,622.8 C759,621 761,621.5 762,623.5 C761.5,626 761,628 760.2,629 C758.5,628 757.5,626 757.2,622.8 Z" fill="#DCD3CC"/>
<path d="M756.3,643.8 C759,642.3 766,642.5 772,643 C779,642.8 785,643.3 789,644.2 C786,645.8 770,646 756.3,645.5 Z" fill="#E59C9F"/>
<ellipse cx="775" cy="605" rx="5.2" ry="4.6" fill="#E3A0A2"/>
<ellipse cx="775.8" cy="605.5" rx="3" ry="2.6" fill="#D98C94"/>
<ellipse cx="775.8" cy="596.2" rx="2.6" ry="2.2" fill="#D8CCC6"/>
<path d="M757,619.5 C758.5,622 758,624.5 756.5,626 C755.5,627.5 756,629.5 758,630.5 C760,631.2 762,630.5 763,628.5 C763.5,626 762,623 760,620.5 Z" fill="#E0D8D2"/>
<ellipse cx="754.2" cy="628" rx="2.7" ry="2.1" fill="#E59C9F"/>
<circle cx="762" cy="598" r="1.2" fill="#C02030"/>
<circle cx="751" cy="594.3" r="1" fill="#E59C9F"/>
</g>
<g transform="translate(704.7,557.2) rotate(45.3)">
<rect x="1" y="-1.5" width="15" height="3" fill="#D9D9D9" stroke="#b0b0b0" stroke-width="0.4"/>
<ellipse cx="0.5" cy="0" rx="1.8" ry="3.6" fill="#DADADA" stroke="#b0b0b0" stroke-width="0.4"/>
<rect x="15" y="-5.5" width="2.2" height="11" rx="0.8" fill="#D5D5D5" stroke="#b0b0b0" stroke-width="0.4"/>
<rect x="17" y="-3.4" width="14.5" height="6.8" fill="#E2E2E2" stroke="#b0b0b0" stroke-width="0.4"/>
<rect x="31.3" y="-3.4" width="1.8" height="6.8" fill="#3a3a3a"/>
<path d="M33,-3.4 H43 Q46,-3.4 46,0 Q46,3.4 43,3.4 H33 Z" fill="#A9D4DF" stroke="#8bbac6" stroke-width="0.4"/>
</g>
<path d="M737.3,591.5 C740,595 742,599 742.3,604" fill="none" stroke="#8fb5bd" stroke-width="1"/>

</svg>
</body></html>
